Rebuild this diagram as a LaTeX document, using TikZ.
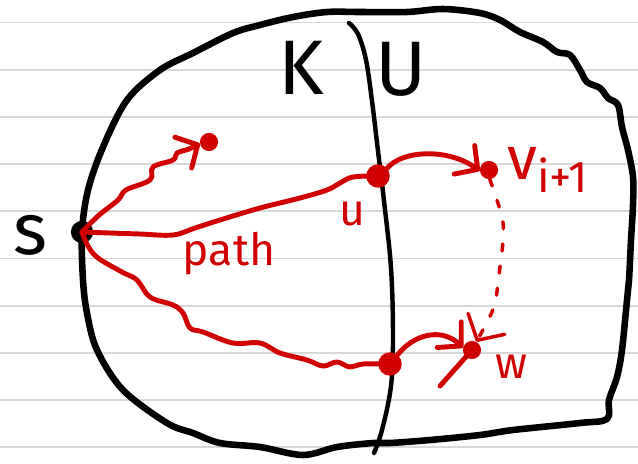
\documentclass[tikz,border=0pt]{standalone}
\usepackage{fontspec}
\setmainfont{Fira Sans}
\usetikzlibrary{arrows.meta}
\definecolor{pen}{RGB}{208,0,0}
\definecolor{ruling}{RGB}{216,216,216}

\begin{document}
\begin{tikzpicture}[x=0.03cm, y=-0.03cm,
    rule/.style={ruling, line width=1.4pt},
    blackline/.style={line width=5.6pt, line cap=round, line join=round},
    redline/.style={pen, line width=4.2pt, line cap=round, line join=round},
    reddot/.style={circle, fill=pen, inner sep=0pt, minimum size=15.5pt},
    bigdot/.style={reddot, minimum size=20pt},
    tip/.style={-{Straight Barb[length=14pt, width=30pt, round]}}]
    \useasboundingbox (0,0) rectangle (638,463);

    % ruled paper
    \foreach \k in {0,...,9}
        \draw[rule] (0,{22.5+47.2*\k}) -- (638,{22.5+47.2*\k});

    % the set and the cut
    \draw[blackline] plot[smooth cycle, tension=0.55] coordinates {
        (360,12) (407,12) (443,9) (480,13) (500,20) (520,32) (543,42) (557,52)
        (570,55) (580,70) (587,82) (600,88) (608,98) (618,105) (622,127)
        (628,150) (633,177) (633,205) (631,240) (629,280) (627,300) (622,350)
        (617,377) (609,400) (607,419) (580,423) (513,430) (480,435) (430,440)
        (390,443) (373,443) (337,447) (303,455) (260,447) (220,443) (193,433)
        (167,423) (123,390) (97,350) (87,313) (83,280) (82,232) (88,190)
        (103,147) (127,100) (160,70) (193,53) (233,33) (260,25) (293,17) (327,12)};
    \draw[line width=3.8pt, line cap=round] plot[smooth, tension=0.6] coordinates {
        (349,23) (358,34) (366,60) (372,101) (378,151) (384,201) (391,268)
        (393,336) (391,386) (382,430) (374,453)};

    \node[font=\fontsize{66}{66}\selectfont] (K) at (301,68) {K};
    \node[font=\fontsize{66}{66}\selectfont] (U) at (401,69) {U};

    % vertices
    \node[circle, fill=black, inner sep=0pt, minimum size=19pt] (s) at (82,232) {};
    \node[font=\fontsize{62}{62}\selectfont] (slabel) at (30,235) {s};
    \node[reddot] (top) at (209,142) {};
    \node[bigdot] (u) at (378,176) {};
    \node[reddot] (v) at (489,170) {};
    \node[bigdot] (low) at (390,364) {};
    \node[reddot] (w) at (472,350) {};
    \coordinate (wtail) at (440,386);

    \node[pen, font=\fontsize{38}{38}\selectfont] (ulabel) at (352,214) {u};
    \node[pen, font=\fontsize{38}{38}\selectfont] (wlabel) at (511,367) {w};
    \node[pen, font=\fontsize{38}{38}\selectfont] (pathlabel) at (229,254) {path};
    \node[pen, anchor=west, font=\fontsize{52}{52}\selectfont] (vlabel) at (503,170)
        {v\raisebox{-11pt}{\fontsize{38}{38}\selectfont i+1}};

    % paths out of s
    \draw[redline, tip] plot[smooth, tension=0.6] coordinates {
        (s.center) (98,216) (118,200) (126,190) (150,180) (153,167) (173,160)
        (177,153) (189,149) (top.190)};
    \draw[redline] plot[smooth, tension=0.6] coordinates {
        (s.center) (110,233) (140,234) (173,235) (195,228) (220,220) (260,208)
        (300,198) (327,190) (340,183) (353,177) (u.center)};
    \draw[redline] plot[smooth, tension=0.6] coordinates {
        (s.center) (88,246) (98,258) (122,272) (137,280) (150,297) (173,305)
        (183,313) (190,328) (203,332) (233,343) (260,343) (280,353) (307,360)
        (323,366) (337,362) (350,367) (363,364) (low.center)};

    % edges across the cut
    \draw[redline, tip] (u.40) .. controls (402,150) and (448,148) .. (v.185);
    \draw[redline, tip] (low.50) .. controls (412,336) and (440,326) .. (w.165);
    \draw[redline] (w) -- (wtail);
    \draw[pen, line width=3pt, line cap=round, dash pattern=on 6pt off 13pt,
          -{Straight Barb[length=16pt, width=36pt, round]}]
        plot[smooth, tension=0.6] coordinates {
        (v.275) (502,217) (503,240) (500,267) (495,303) (487,322) (w.62)};
\end{tikzpicture}
\end{document}
